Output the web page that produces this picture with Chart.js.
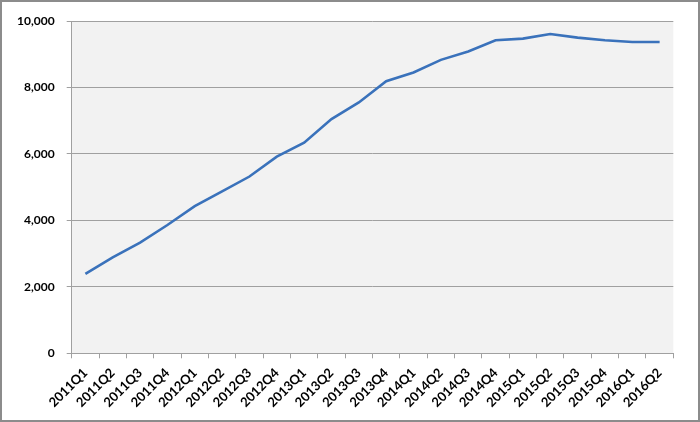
<!DOCTYPE html>
<html>
<head>
<meta charset="utf-8">
<script src="https://cdn.jsdelivr.net/npm/chart.js@4/dist/chart.umd.min.js"></script>
<style>
html,body{margin:0;padding:0;background:#fff;}
#wrap{width:700px;height:422px;position:relative;}
</style>
</head>
<body>
<div id="wrap"><canvas id="c" width="700" height="422"></canvas></div>
<script>
const categories = ["2011Q1","2011Q2","2011Q3","2011Q4","2012Q1","2012Q2","2012Q3","2012Q4","2013Q1","2013Q2","2013Q3","2013Q4","2014Q1","2014Q2","2014Q3","2014Q4","2015Q1","2015Q2","2015Q3","2015Q4","2016Q1","2016Q2"];
const values = [2390,2890,3330,3860,4430,4870,5320,5920,6340,7050,7550,8190,8450,8830,9080,9420,9470,9610,9500,9420,9370,9370];
const yTicks = [0,2000,4000,6000,8000,10000];

const bgPlugin = {
  id: 'bg',
  beforeDraw(chart) {
    const {ctx, chartArea: a} = chart;
    ctx.save();
    ctx.fillStyle = '#ffffff';
    ctx.fillRect(0, 0, chart.width, chart.height);
    ctx.fillStyle = '#f2f2f2';
    ctx.fillRect(a.left, a.top, a.right - a.left, a.bottom - a.top);
    ctx.restore();
  },
  afterDraw(chart) {
    const ctx = chart.ctx;
    ctx.save();
    ctx.strokeStyle = '#8c8c8c';
    ctx.lineWidth = 2;
    ctx.strokeRect(1, 1, chart.width - 2, chart.height - 2);
    ctx.restore();
  }
};

new Chart(document.getElementById('c'), {
  type: 'line',
  data: {
    labels: categories,
    datasets: [{
      data: values,
      borderColor: '#3a72bb',
      borderWidth: 2.6,
      pointRadius: 0,
      tension: 0,
      fill: false
    }]
  },
  options: {
    responsive: false,
    animation: false,
    devicePixelRatio: 1,
    layout: { padding: { top: 21, right: 26.7, left: 0, bottom: 0 } },
    plugins: { legend: { display: false }, tooltip: { enabled: false } },
    scales: {
      x: {
        type: 'category',
        offset: true,
        grid: { offset: true, drawOnChartArea: false, drawTicks: true, tickLength: 5, color: '#a0a0a0' },
        border: { color: '#a0a0a0', width: 1 },
        ticks: {
          autoSkip: false, maxRotation: 45, minRotation: 45, padding: 7,
          color: '#000', font: { family: 'Lato', weight: 'bold', size: 13 }
        },
        afterFit(scale) { scale.height = 422 - 353.3; }
      },
      y: {
        min: 0, max: 10000,
        afterBuildTicks(scale) { scale.ticks = yTicks.map(v => ({ value: v })); },
        grid: { color: '#a0a0a0', tickLength: 5, drawTicks: true },
        border: { color: '#a0a0a0', width: 1 },
        ticks: {
          padding: 12, color: '#000',
          font: { family: 'Lato', weight: 'bold', size: 12 },
          callback: v => v.toLocaleString('en-US')
        },
        afterFit(scale) { scale.width = 71.7; }
      }
    }
  },
  plugins: [bgPlugin]
});
</script>
</body>
</html>
